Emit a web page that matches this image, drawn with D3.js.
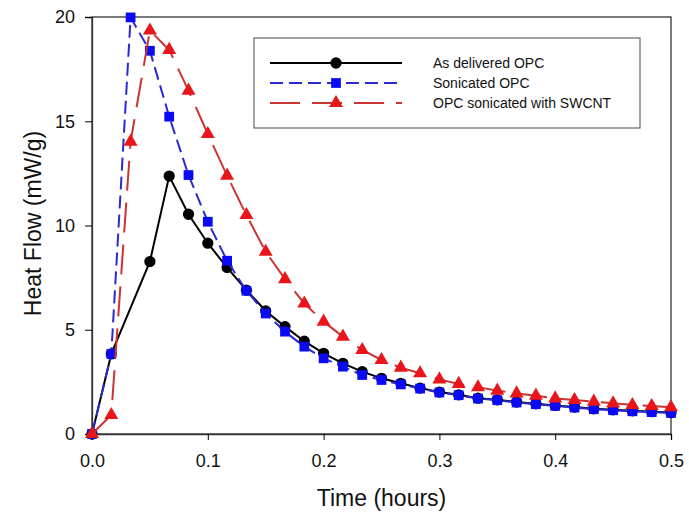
<!DOCTYPE html>
<html>
<head>
<meta charset="utf-8">
<script src="https://cdn.jsdelivr.net/npm/d3@7"></script>
<style>
  body { margin: 0; background: #fff; }
  svg { font-family: Arial, "Liberation Sans", sans-serif; }
</style>
</head>
<body>
<span></span>
<script>
// heat flow of cement pastes over the first half hour

const seriesNames = ['As delivered OPC', 'Sonicated OPC', 'OPC sonicated with SWCNT'];

// time in minutes (converted to hours below)
const deliveredMin = [0, 1, 3, 4, 5, 6, 7, 8, 9, 10, 11, 12, 13, 14, 15, 16, 17, 18, 19, 20, 21, 22, 23, 24, 25, 26, 27, 28, 29, 30];
const deliveredVal = [0, 3.84, 8.27, 12.37, 10.54, 9.15, 7.98, 6.9, 5.9, 5.15, 4.45, 3.87, 3.39, 2.99, 2.67, 2.43, 2.2, 2.01, 1.88, 1.72, 1.64, 1.53, 1.45, 1.37, 1.29, 1.21, 1.16, 1.11, 1.07, 1.03];

const sonicMin = [0, 1, 2, 3, 4, 5, 6, 7, 8, 9, 10, 11, 12, 13, 14, 15, 16, 17, 18, 19, 20, 21, 22, 23, 24, 25, 26, 27, 28, 29, 30];
const sonicVal = [0, 3.84, 19.98, 18.38, 15.22, 12.42, 10.18, 8.31, 6.87, 5.78, 4.91, 4.19, 3.63, 3.23, 2.83, 2.59, 2.38, 2.18, 1.99, 1.86, 1.7, 1.62, 1.51, 1.43, 1.35, 1.27, 1.19, 1.14, 1.09, 1.05, 1.01];

const swcntMin = [0, 1, 2, 3, 4, 5, 6, 7, 8, 9, 10, 11, 12, 13, 14, 15, 16, 17, 18, 19, 20, 21, 22, 23, 24, 25, 26, 27, 28, 29, 30];
const swcntVal = [0, 0.91, 14.02, 19.35, 18.42, 16.47, 14.39, 12.39, 10.5, 8.74, 7.43, 6.26, 5.39, 4.67, 4.03, 3.55, 3.18, 2.91, 2.62, 2.4, 2.24, 2.08, 1.95, 1.84, 1.71, 1.63, 1.55, 1.47, 1.39, 1.34, 1.28];

const xTicks = [0, 0.1, 0.2, 0.3, 0.4, 0.5];
const yTicks = [0, 5, 10, 15, 20];

var width = 689, height = 523;
var margin = {top: 17, right: 18, bottom: 89, left: 92};

const svg = d3.select('span')
    .append('svg')
    .attr('width', width)
    .attr('height', height);

const xScale = d3.scaleLinear()
    .domain([0, 0.5])
    .range([margin.left, width - margin.right]);
const yScale = d3.scaleLinear()
    .domain([0, 20])
    .range([height - margin.bottom, margin.top]);

// frame
svg.append('rect')
    .attr('x', xScale(0))
    .attr('y', yScale(20))
    .attr('width', xScale(0.5) - xScale(0))
    .attr('height', yScale(0) - yScale(20))
    .attr('fill', 'none')
    .attr('stroke', '#333')
    .attr('stroke-width', 1.3);

// axes
svg.append('g')
    .attr('transform', `translate(0, ${yScale(0)})`)
    .call(d3.axisBottom(xScale).tickValues(xTicks).tickFormat(d3.format('.1f')).tickSize(6).tickPadding(14))
    .call(g => g.select('.domain').attr('stroke', '#333').attr('stroke-width', 1.3))
    .call(g => g.selectAll('text').attr('font-size', 18).attr('fill', '#111'));

svg.append('g')
    .attr('transform', `translate(${xScale(0)}, 0)`)
    .call(d3.axisLeft(yScale).tickValues(yTicks).tickSize(7).tickPadding(10))
    .call(g => g.select('.domain').attr('stroke', '#333').attr('stroke-width', 1.3))
    .call(g => g.selectAll('text').attr('font-size', 18).attr('fill', '#111'));

// axis titles
svg.append('text')
    .attr('x', (xScale(0) + xScale(0.5)) / 2)
    .attr('y', 506)
    .attr('text-anchor', 'middle')
    .attr('font-size', 23)
    .attr('fill', '#111')
    .text('Time (hours)');

svg.append('text')
    .attr('transform', `translate(41, ${(yScale(0) + yScale(20)) / 2 - 2}) rotate(-90)`)
    .attr('text-anchor', 'middle')
    .attr('font-size', 23)
    .attr('fill', '#111')
    .text('Heat Flow (mW/g)');

const series = [
    {name: seriesNames[0], t: deliveredMin, v: deliveredVal, line: '#000', fill: '#000', dash: null, shape: d3.symbolCircle, size: 100},
    {name: seriesNames[1], t: sonicMin, v: sonicVal, line: '#2a2ad0', fill: '#0a0af5', dash: '13,6', shape: d3.symbolSquare, size: 95},
    {name: seriesNames[2], t: swcntMin, v: swcntVal, line: '#cc3333', fill: '#e8161b', dash: '30,12', shape: d3.symbolTriangle, size: 85}
];

const line = d3.line()
    .x(d => xScale(d[0]))
    .y(d => yScale(d[1]));

series.forEach(function(s) {
    const pts = s.t.map((m, i) => [m / 60, s.v[i]]);
    svg.append('path')
        .datum(pts)
        .attr('d', line)
        .attr('fill', 'none')
        .attr('stroke', s.line)
        .attr('stroke-width', 2)
        .attr('stroke-dasharray', s.dash);
    svg.append('g')
        .selectAll('path')
        .data(pts)
        .join('path')
        .attr('transform', d => `translate(${xScale(d[0])}, ${yScale(d[1])})`)
        .attr('d', d3.symbol().type(s.shape).size(s.size))
        .attr('fill', s.fill);
});

// legend
const lg = svg.append('g');
lg.append('rect')
    .attr('x', 254).attr('y', 38)
    .attr('width', 386).attr('height', 90)
    .attr('fill', '#fff')
    .attr('stroke', '#666')
    .attr('stroke-width', 1.2);

series.forEach(function(s, i) {
    const y = 63 + i * 20;
    lg.append('line')
        .attr('x1', 270).attr('x2', 402)
        .attr('y1', y).attr('y2', y)
        .attr('stroke', s.line)
        .attr('stroke-width', 2)
        .attr('stroke-dasharray', s.dash);
    lg.append('path')
        .attr('transform', `translate(336, ${y})`)
        .attr('d', d3.symbol().type(s.shape).size(s.size))
        .attr('fill', s.fill);
    lg.append('text')
        .attr('x', 433).attr('y', y + 5)
        .attr('font-size', 14)
        .attr('fill', '#111')
        .text(s.name);
});
</script>
</body>
</html>
